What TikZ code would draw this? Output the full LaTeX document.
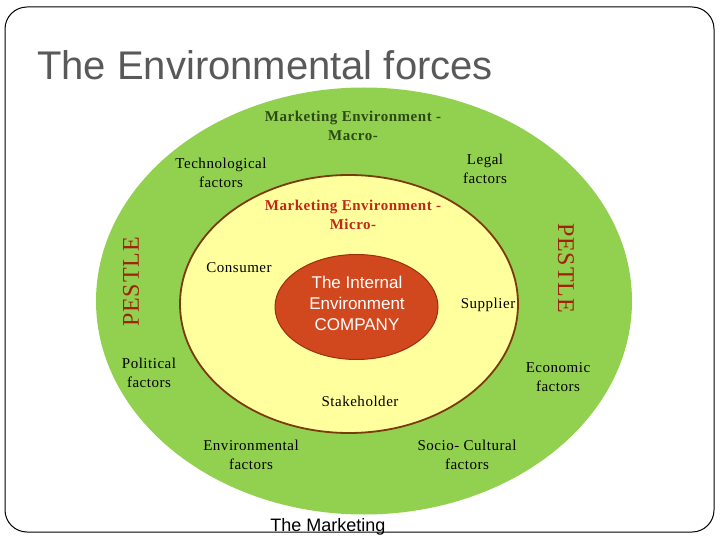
\documentclass[tikz,border=0pt]{standalone}
\usepackage{fontspec}
\usetikzlibrary{shapes.geometric}
\setmainfont[LetterSpace=3.5]{Liberation Serif}
\newfontfamily\arialfont{Liberation Sans}
\definecolor{titlegray}{HTML}{595959}
\definecolor{outergreen}{HTML}{92D050}
\definecolor{inneryellow}{HTML}{FFFF9E}
\definecolor{yellowedge}{HTML}{7A3A0A}
\definecolor{corefill}{HTML}{D2481E}
\definecolor{coreedge}{HTML}{9E2E10}
\definecolor{pestred}{HTML}{A02208}
\definecolor{microred}{HTML}{C2261A}
\definecolor{macrogreen}{HTML}{2D4A14}
\tikzset{
  lbl/.style={inner sep=0pt, align=center, font=\fontsize{15}{19}\selectfont, text=black},
  macrolbl/.style={lbl, font=\bfseries\fontsize{15}{19}\selectfont, text=macrogreen},
  microlbl/.style={lbl, font=\bfseries\fontsize{15}{19}\selectfont, text=microred},
  pestle/.style={inner sep=0pt, font=\fontsize{24}{28}\selectfont, text=pestred},
  corelbl/.style={inner sep=0pt, align=center, font=\arialfont\fontsize{17}{21}\selectfont, text=white}
}
\begin{document}
\begin{tikzpicture}[x=1pt,y=-1pt]
\useasboundingbox (0,0) rectangle (720,540);
\draw[line width=1pt, rounded corners=22pt] (5,7) rectangle (714,532);
\node[anchor=base west, inner sep=0pt, font=\arialfont\fontsize{40}{48}\selectfont, text=titlegray] (title) at (37,80) {The Environmental forces};
\node[ellipse, fill=outergreen, minimum width=536pt, minimum height=427pt, inner sep=0pt] (macro) at (364,301) {};
\node[ellipse, fill=inneryellow, draw=yellowedge, line width=1.8pt, minimum width=338pt, minimum height=258pt, inner sep=0pt] (micro) at (349,304) {};
\node[ellipse, fill=corefill, draw=coreedge, line width=1pt, minimum width=163pt, minimum height=105pt, inner sep=0pt] (core) at (356.5,307) {};
\node[corelbl] (corelabel) at (357,303) {The Internal\\Environment\\COMPANY};
\node[macrolbl] (macrot) at (353,126) {Marketing Environment -\\Macro-};
\node[microlbl] (microt) at (353,215) {Marketing Environment -\\Micro-};
\node[lbl] (tech) at (221,173) {Technological\\factors};
\node[lbl] (legal) at (485,169) {Legal\\factors};
\node[lbl] (pol) at (149,373) {Political\\factors};
\node[lbl] (eco) at (558,377) {Economic\\factors};
\node[lbl] (env) at (251,455) {Environmental\\factors};
\node[lbl] (soc) at (467,455) {Socio- Cultural\\factors};
\node[lbl] (cons) at (239,268) {Consumer};
\node[lbl] (supp) at (488,305) {Supplier};
\node[lbl] (stake) at (360,401) {Stakeholder};
\node[pestle, rotate=90] (pl) at (131,282) {PESTLE};
\node[pestle, rotate=-90] (pr) at (566,268) {PESTLE};
\node[anchor=base, inner sep=0pt, font=\arialfont\fontsize{18}{22}\selectfont, text=black] (mkt) at (328,531) {The Marketing};
\end{tikzpicture}
\end{document}
